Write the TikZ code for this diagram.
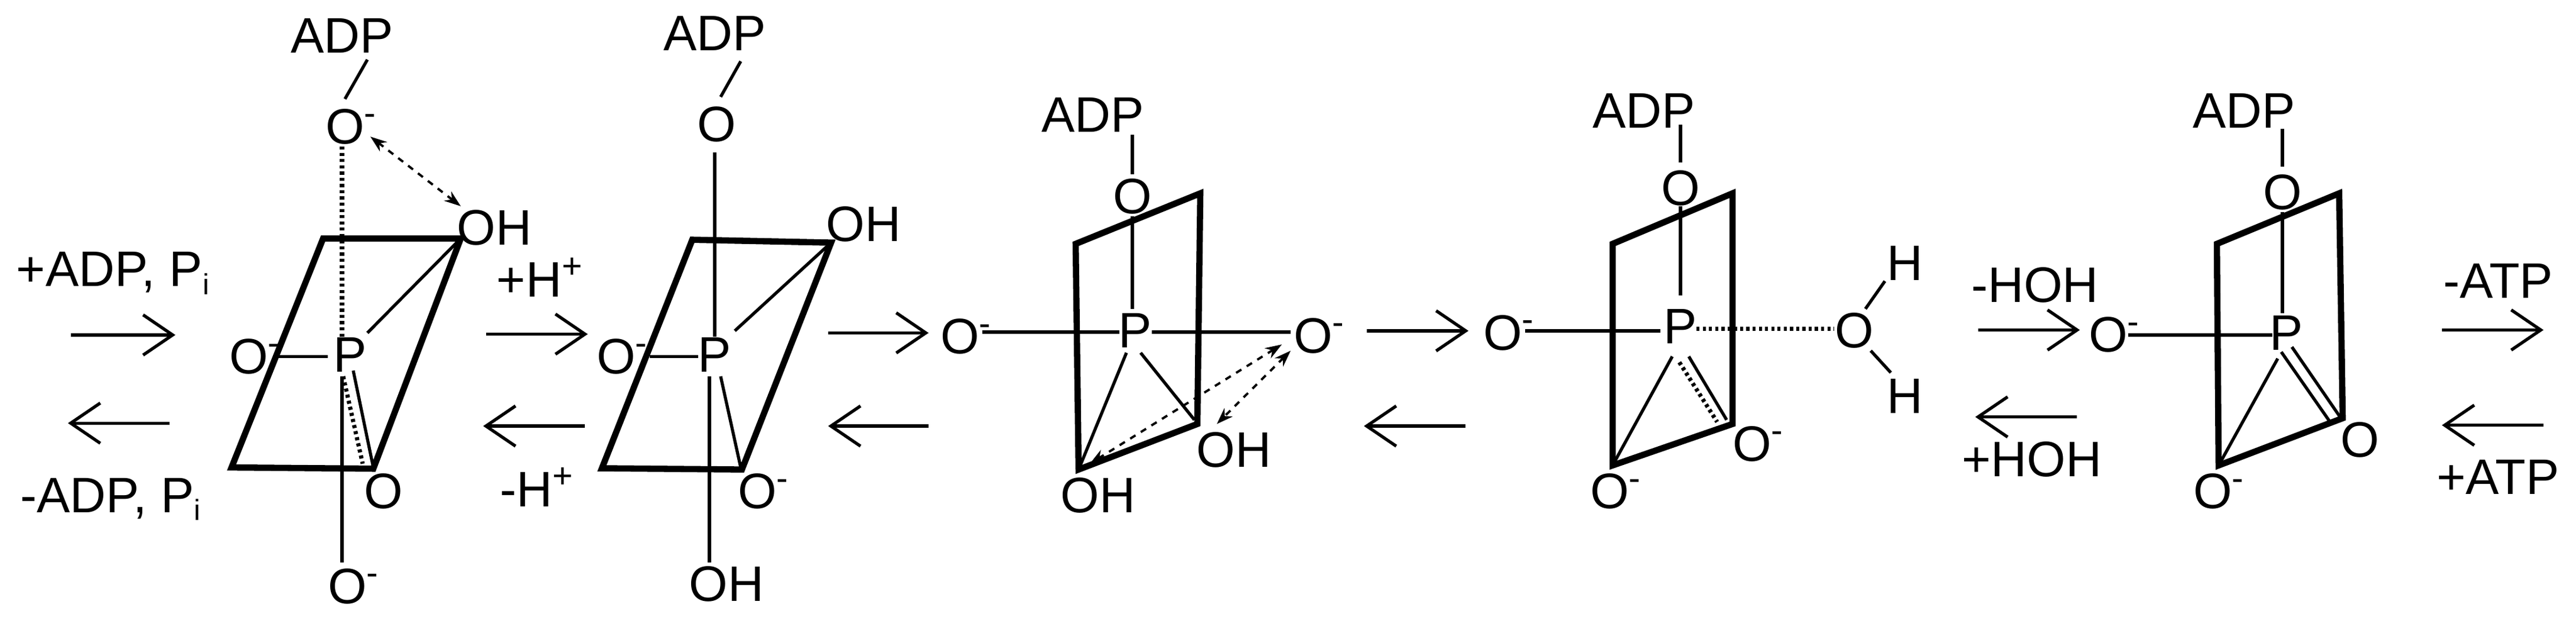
\documentclass[tikz,border=0pt]{standalone}
\usepackage{fontspec}
\setmainfont{Liberation Sans}
\usetikzlibrary{arrows.meta}
\begin{document}
\begin{tikzpicture}[x=0.01cm,y=-0.00701cm,
  lab/.style={inner sep=0pt,font=\fontsize{24}{28}\selectfont},
  frame/.style={line width=3pt,line join=miter},
  bond/.style={line width=1.5pt},
  dotb/.style={line width=2pt,dash pattern=on 1.5pt off 1.5pt},
  rxn/.style={line width=1.5pt,-{Straight Barb[length=0.5cm,width=0.68cm,line width=1.5pt]}},
  hb/.style={line width=1.1pt,dashed,{Stealth[length=0.28cm,width=0.2cm]}-{Stealth[length=0.28cm,width=0.2cm]}}]
\useasboundingbox (0,0) rectangle (4361,1499);
\newcommand{\Om}{O\rlap{\textsuperscript{-}}}
\newcommand{\Psub}{P\raisebox{-0.3ex}{\fontsize{14}{16}\selectfont i}}
% ---------- panel 1
\node[lab] (adp1) at (579,86) {ADP};
\node[lab] (ot1) at (584,306) {\Om};
\node[lab] (oh1) at (837,550) {OH};
\node[lab] (p1) at (593,857) {P};
\node[lab] (ol1) at (421,861) {\Om};
\node[lab] (ob1) at (649,1187) {O};
\node[lab] (od1) at (588,1416) {\Om};
\coordinate (tl1) at (547,576); \coordinate (tr1) at (780,576);
\coordinate (br1) at (632,1132); \coordinate (bl1) at (392,1129);
\draw[frame] (tl1)--(tr1)--(br1)--(bl1)--cycle;
\draw[bond] (622,144)--(584,239);
\draw[bond] (469,861)--(555,861);
\draw[dotb] (579,354)--(579,823);
\draw[hb] (627,330)--(780,498);
\draw[bond] (622,804)--(tr1);
\draw[bond] (598,895)--(632,1129);
\draw[dotb] (581,909)--(614,1120);
\draw[bond] (579,909)--(579,1359);
\node[lab] (t1a) at (191,660) {+ADP, \Psub};
\node[lab] (t1b) at (187,1206) {-ADP, \Psub};
\draw[rxn] (120,809)--(297,809);
\draw[rxn] (287,1022)--(115,1022);
% ---------- arrows 2
\node[lab] (t2a) at (914,670) {+H\textsuperscript{+}};
\node[lab] (t2b) at (909,1177) {-H\textsuperscript{+}};
\draw[rxn] (823,807)--(995,807);
\draw[rxn] (990,1029)--(818,1029);
% ---------- panel 2
\node[lab] (adp2) at (1210,81) {ADP};
\node[lab] (ot2) at (1213,301) {O};
\node[lab] (oh2) at (1462,541) {OH};
\node[lab] (p2) at (1210,857) {P};
\node[lab] (ol2) at (1043,861) {\Om};
\node[lab] (ob2) at (1282,1187) {\Om};
\node[lab] (od2) at (1230,1411) {OH};
\coordinate (tl2) at (1172,579); \coordinate (tr2) at (1407,586);
\coordinate (br2) at (1256,1134); \coordinate (bl2) at (1019,1131);
\draw[frame] (tl2)--(tr2)--(br2)--(bl2)--cycle;
\draw[bond] (1254,148)--(1220,234);
\draw[bond] (1210,368)--(1210,813);
\draw[bond] (1201,909)--(1201,1359);
\draw[bond] (1100,861)--(1182,861);
\draw[bond] (1244,799)--(tr2);
\draw[bond] (1220,909)--(1254,1129);
% ---------- arrows 3
\draw[rxn] (1402,804)--(1572,804);
\draw[rxn] (1572,1029)--(1402,1029);
% ---------- panel 3
\node[lab] (adp3) at (1850,278) {ADP};
\node[lab] (ot3) at (1917,474) {O};
\node[lab] (p3) at (1922,799) {P};
\node[lab] (ol3) at (1625,813) {\Om};
\node[lab] (or3) at (2223,811) {\Om};
\node[lab] (oh3a) at (1859,1196) {OH};
\node[lab] (oh3b) at (2089,1086) {OH};
\coordinate (tl3) at (1821,589); \coordinate (tr3) at (2032,467);
\coordinate (br3) at (2027,1024); \coordinate (bl3) at (1826,1134);
\draw[frame] (tl3)--(tr3)--(br3)--(bl3)--cycle;
\draw[bond] (1917,325)--(1917,421);
\draw[bond] (1917,522)--(1917,746);
\draw[bond] (1663,802)--(1895,802);
\draw[bond] (1950,802)--(2185,802);
\draw[bond] (1907,852)--(bl3);
\draw[bond] (1931,852)--(2022,1014);
\draw[hb] (2170,832)--(1845,1120);
\draw[hb] (2185,847)--(2060,1024);
% ---------- arrows 4
\draw[rxn] (2314,799)--(2486,799);
\draw[rxn] (2481,1029)--(2309,1029);
% ---------- panel 4
\node[lab] (adp4) at (2783,268) {ADP};
\node[lab] (ot4) at (2845,455) {O};
\node[lab] (p4) at (2845,789) {P};
\node[lab] (ol4) at (2544,804) {\Om};
\node[lab] (ob4) at (2966,1072) {\Om};
\node[lab] (od4) at (2725,1187) {\Om};
\node[lab] (ow4) at (3139,799) {O};
\node[lab] (h4a) at (3225,636) {H};
\node[lab] (h4b) at (3225,957) {H};
\coordinate (tl4) at (2730,589); \coordinate (tr4) at (2933,467);
\coordinate (br4) at (2933,1024); \coordinate (bl4) at (2730,1124);
\draw[frame] (tl4)--(tr4)--(br4)--(bl4)--cycle;
\draw[bond] (2845,301)--(2845,392);
\draw[bond] (2845,498)--(2845,713);
\draw[bond] (2582,799)--(2811,799);
\draw[bond] (2831,861)--(bl4);
\draw[bond] (2859,861)--(2923,1014);
\draw[dotb] (2843,875)--(2907,1019);
\draw[dotb] (2872,794)--(3105,794);
\draw[bond] (3158,746)--(3191,679);
\draw[bond] (3167,847)--(3201,900);
% ---------- arrows 5
\node[lab] (t5a) at (3445,689) {-HOH};
\node[lab] (t5b) at (3440,1110) {+HOH};
\draw[rxn] (3349,797)--(3521,797);
\draw[rxn] (3516,1007)--(3344,1007);
% ---------- panel 5
\node[lab] (adp5) at (3799,268) {ADP};
\node[lab] (ot5) at (3864,464) {O};
\node[lab] (p5) at (3871,804) {P};
\node[lab] (ol5) at (3569,809) {\Om};
\node[lab] (ob5) at (3995,1062) {O};
\node[lab] (od5) at (3746,1187) {\Om};
\coordinate (tl5) at (3753,589); \coordinate (tr5) at (3960,467);
\coordinate (br5) at (3966,1010); \coordinate (bl5) at (3756,1124);
\draw[frame] (tl5)--(tr5)--(br5)--(bl5)--cycle;
\draw[bond] (3864,311)--(3864,402);
\draw[bond] (3864,512)--(3864,756);
\draw[bond] (3603,809)--(3847,809);
\draw[bond] (3856,866)--(bl5);
\draw[bond] (3880,838)--(3962,1008);
\draw[bond] (3862,850)--(3945,1020);
% ---------- arrows 6
\node[lab] (t6a) at (4229,679) {-ATP};
\node[lab] (t6b) at (4229,1153) {+ATP};
\draw[rxn] (4134,797)--(4306,797);
\draw[rxn] (4306,1027)--(4134,1027);
\end{tikzpicture}
\end{document}
